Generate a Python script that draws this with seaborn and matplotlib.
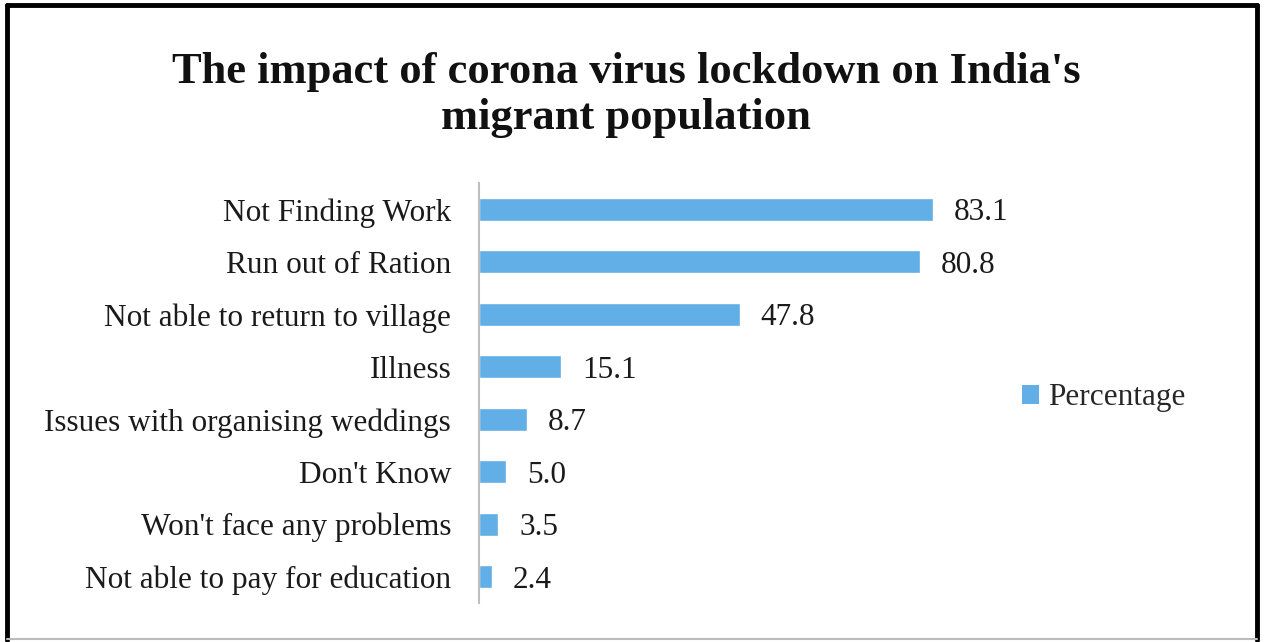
import matplotlib
matplotlib.use("Agg")
import matplotlib.pyplot as plt
import seaborn as sns
import pandas as pd
from matplotlib.lines import Line2D
from matplotlib.patches import Patch

categories = [
    "Not Finding Work",
    "Run out of Ration",
    "Not able to return to village",
    "Illness",
    "Issues with organising weddings",
    "Don't Know",
    "Won't face any problems",
    "Not able to pay for education",
]
values = [83.1, 80.8, 47.8, 15.1, 8.7, 5.0, 3.5, 2.4]
series_name = "Percentage"
title_lines = ["The impact of corona virus lockdown on India's", "migrant population"]

sns.set_theme(style="white")
plt.rcParams["font.family"] = ["Liberation Serif", "DejaVu Serif"]

W, H = 1264, 642
fig = plt.figure(figsize=(W / 100, H / 100), dpi=100)
ax = fig.add_axes([479 / W, 39 / H, 546 / W, 420 / H])

df = pd.DataFrame({"category": categories, "value": values})
bar_color = "#62AEE6"
sns.barplot(data=df, x="value", y="category", color=bar_color, saturation=1,
            width=0.43, ax=ax)
ax.set_xlim(0, 100)
ax.set_ylim(len(categories) - 0.5, -0.5)
for s in ["top", "right", "bottom"]:
    ax.spines[s].set_visible(False)
ax.spines["left"].set_color("#BFBFBF")
ax.spines["left"].set_linewidth(1.5)
ax.set_xticks([])
ax.set_xlabel("")
ax.set_ylabel("")
ax.tick_params(axis="y", length=0, pad=20, labelsize=22.5, labelcolor="#1a1a1a")

for i, v in enumerate(values):
    ax.annotate(f"{v:.1f}", xy=(v, i), xytext=(15, 0), textcoords="offset points",
                ha="left", va="center_baseline", fontsize=22.5, color="#1a1a1a")

handle = Patch(facecolor=bar_color, edgecolor="none")
ax.legend([handle], [series_name], loc="center left",
          bbox_to_anchor=(1022 / W, 1 - 398 / H), bbox_transform=fig.transFigure,
          frameon=False, fontsize=22.5, handlelength=0.55, handleheight=0.55,
          handletextpad=0.3, borderaxespad=0, borderpad=0)

fig.text(626 / W, 1 - 83 / H, title_lines[0], ha="center", va="baseline",
         fontsize=32, fontweight="bold", color="#111111")
fig.text(626 / W, 1 - 129 / H, title_lines[1], ha="center", va="baseline",
         fontsize=32, fontweight="bold", color="#111111")

# frame around the figure
fig.add_artist(Line2D([7 / W, 7 / W], [1 - 5 / H, 1 - 640 / H], color="black", lw=3.5, transform=fig.transFigure))
fig.add_artist(Line2D([7 / W, 1257 / W], [1 - 5 / H, 1 - 5 / H], color="black", lw=3.5, transform=fig.transFigure))
fig.add_artist(Line2D([1257 / W, 1257 / W], [1 - 5 / H, 1 - 640 / H], color="black", lw=3.5, transform=fig.transFigure))
fig.add_artist(Line2D([7 / W, 1257 / W], [1 - 639 / H, 1 - 639 / H], color="#BBBBBB", lw=1.5, transform=fig.transFigure))

fig.savefig("out.png", dpi=100)
